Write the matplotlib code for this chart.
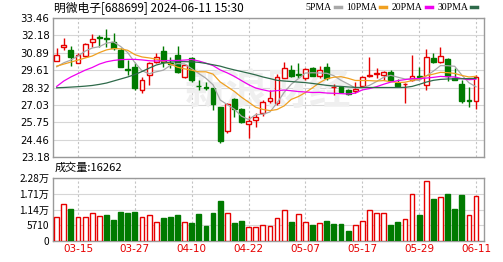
import matplotlib
matplotlib.use("Agg")
import matplotlib.pyplot as plt
from matplotlib.lines import Line2D
import numpy as np

dates = ["03-12", "03-13", "03-14", "03-15", "03-18", "03-19", "03-20", "03-21", "03-22", "03-25",
         "03-26", "03-27", "03-28", "03-29", "04-01", "04-02", "04-03", "04-08", "04-09", "04-10",
         "04-11", "04-12", "04-15", "04-16", "04-17", "04-18", "04-19", "04-22", "04-23", "04-24",
         "04-25", "04-26", "04-29", "04-30", "05-06", "05-07", "05-08", "05-09", "05-10", "05-13",
         "05-14", "05-15", "05-16", "05-17", "05-20", "05-21", "05-22", "05-23", "05-24", "05-27",
         "05-28", "05-29", "05-30", "05-31", "06-03", "06-04", "06-05", "06-06", "06-07", "06-11"]
open_ = [30.30, 31.33, 31.09, 30.15, 30.67, 31.70, 32.02, 31.95, 31.70, 31.09,
         29.70, 29.80, 28.17, 29.28, 30.22, 31.04, 30.15, 30.71, 29.10, 30.50,
         28.45, 28.36, 28.25, 26.88, 25.08, 27.48, 26.75, 25.60, 25.90, 26.45,
         27.33, 27.15, 29.05, 29.60, 29.35, 29.00, 29.77, 29.15, 29.85, 28.33,
         28.38, 28.16, 28.03, 28.40, 29.15, 29.33, 29.25, 29.50, 28.65, 28.55,
         28.88, 29.15, 28.47, 30.50, 30.20, 30.43, 29.05, 28.55, 27.40, 27.30]
high = [31.26, 32.00, 31.38, 30.89, 31.63, 32.25, 32.20, 32.62, 32.32, 31.21,
        30.34, 30.10, 29.11, 30.22, 30.84, 31.41, 30.59, 31.41, 30.05, 30.60,
        28.86, 28.70, 28.30, 26.90, 27.20, 27.55, 26.80, 26.20, 26.45, 27.40,
        28.10, 29.30, 30.20, 30.00, 30.10, 29.75, 29.80, 29.90, 30.15, 28.55,
        28.40, 28.20, 28.70, 29.15, 30.55, 29.75, 29.55, 29.60, 28.95, 28.62,
        30.70, 29.85, 31.20, 30.90, 31.30, 30.50, 29.73, 28.86, 28.37, 29.23]
low = [30.25, 31.09, 29.90, 30.10, 30.60, 31.33, 31.33, 31.33, 31.13, 29.80,
       29.23, 28.17, 27.88, 28.49, 30.15, 29.85, 29.73, 29.41, 29.00, 28.75,
       28.17, 28.15, 26.65, 24.20, 24.93, 26.15, 25.70, 24.60, 25.40, 26.20,
       27.20, 27.05, 29.00, 29.10, 29.00, 28.90, 29.15, 29.05, 28.90, 27.80,
       27.95, 27.80, 27.90, 28.35, 29.10, 29.00, 28.90, 28.80, 28.35, 27.20,
       28.80, 28.95, 28.10, 30.15, 30.15, 28.80, 28.85, 27.15, 26.90, 26.76]
close = [30.71, 31.46, 30.59, 30.76, 31.53, 31.88, 31.95, 31.88, 31.21, 29.85,
         29.62, 28.25, 28.86, 30.10, 30.59, 30.22, 30.05, 29.48, 29.95, 28.87,
         28.40, 28.30, 27.10, 24.35, 27.10, 26.70, 25.75, 25.85, 26.15, 27.25,
         27.57, 29.10, 29.74, 29.15, 29.28, 29.70, 29.20, 29.64, 29.02, 28.37,
         28.00, 27.86, 28.20, 29.08, 29.27, 29.38, 29.45, 28.90, 28.40, 28.60,
         29.20, 29.08, 30.57, 30.20, 30.63, 29.18, 28.87, 27.32, 27.35, 29.11]
close_before = 30.25
volume = [8550, 13300, 11760, 8550, 8550, 10330, 8900, 9500, 7720, 10690,
          10330, 10690, 8550, 9500, 6770, 8310, 8550, 9380, 6770, 6410,
          9740, 5340, 10330, 14490, 10090, 6650, 7360, 5100, 5220, 5820,
          5580, 8310, 11280, 6890, 9740, 6890, 5940, 6530, 7360, 6290,
          6290, 3560, 5940, 7360, 11280, 10090, 10330, 5940, 6890, 8080,
          16980, 9380, 21610, 15200, 15790, 16980, 11520, 16740, 9500, 16262]
ma5 = [29.85, 30.15, 30.35, 30.65, 31.01, 31.24, 31.34, 31.60, 31.69, 31.35,
       30.90, 30.16, 29.56, 29.34, 29.48, 29.60, 29.96, 30.09, 30.06, 29.71,
       29.35, 29.00, 28.52, 27.40, 27.05, 26.71, 26.20, 25.95, 26.31, 26.34,
       26.51, 27.18, 27.96, 28.56, 28.97, 29.39, 29.41, 29.39, 29.37, 29.19,
       28.85, 28.58, 28.29, 28.30, 28.48, 28.76, 29.08, 29.22, 29.08, 28.95,
       28.91, 28.84, 29.17, 29.53, 29.94, 29.93, 29.89, 29.24, 28.67, 28.37]
ma10 = [29.90, 30.05, 30.20, 30.35, 30.50, 30.65, 30.90, 31.10, 31.20, 31.18,
        31.07, 30.75, 30.58, 30.51, 30.42, 30.25, 30.06, 29.82, 29.70, 29.60,
        29.48, 29.48, 29.31, 28.73, 28.38, 28.03, 27.60, 27.24, 26.86, 26.70,
        26.61, 26.69, 26.96, 27.44, 27.65, 27.95, 28.30, 28.68, 28.97, 29.08,
        29.12, 29.00, 28.84, 28.84, 28.83, 28.80, 28.83, 28.75, 28.69, 28.71,
        28.83, 28.96, 29.19, 29.31, 29.44, 29.42, 29.36, 29.21, 29.10, 29.15]
ma20 = [28.40, 28.80, 29.10, 29.35, 29.60, 29.80, 30.05, 30.22, 30.32, 30.38,
        30.40, 30.40, 30.36, 30.30, 30.28, 30.30, 30.32, 30.32, 30.35, 30.39,
        30.28, 30.12, 29.94, 29.62, 29.40, 29.14, 28.83, 28.53, 28.28, 28.15,
        28.04, 28.09, 28.13, 28.08, 28.02, 27.99, 27.95, 27.96, 27.91, 27.89,
        27.87, 27.84, 27.90, 28.14, 28.24, 28.38, 28.56, 28.72, 28.83, 28.90,
        28.98, 28.98, 29.02, 29.07, 29.14, 29.11, 29.10, 28.98, 28.90, 28.93]
ma30 = [28.30, 28.32, 28.35, 28.38, 28.42, 28.47, 28.55, 28.65, 28.80, 28.95,
        29.10, 29.28, 29.50, 29.75, 29.98, 30.12, 30.20, 30.23, 30.23, 30.22,
        30.18, 30.10, 30.00, 29.90, 29.75, 29.62, 29.50, 29.38, 29.25, 29.10,
        28.98, 28.85, 28.80, 28.76, 28.72, 28.68, 28.62, 28.55, 28.48, 28.43,
        28.40, 28.36, 28.33, 28.32, 28.32, 28.32, 28.32, 28.32, 28.32, 28.33,
        28.40, 28.55, 28.72, 28.85, 28.92, 28.95, 28.96, 28.97, 28.98, 29.00]

price_ticks = [23.18, 24.46, 25.75, 27.03, 28.32, 29.61, 30.89, 32.18, 33.46]
volume_ticks = [0, 5710, 11420, 17130, 22840]
volume_tick_labels = ["0", "5710", "1.14万", "1.71万", "2.28万"]
date_ticks = ["03-15", "03-27", "04-10", "04-22", "05-07", "05-17", "05-29", "06-11"]

RED = "#e60000"
GREEN = "#007a00"
GRID = "#d6d6d6"
EDGE = "#9a9a9a"
CJK = ["Noto Sans CJK SC", "DejaVu Sans"]

plt.rcParams["font.family"] = ["DejaVu Sans"]

figure = plt.figure(figsize=(5.03, 2.62), dpi=100)
axis = figure.add_axes([53 / 503, 1 - 157 / 262, 430.5 / 503, 139 / 262])
vol_axis = figure.add_axes([53 / 503, 1 - 241 / 262, 430.5 / 503, 63 / 262], sharex=axis)

x = np.arange(len(dates))
o = np.array(open_)
c = np.array(close)
h = np.array(high)
l = np.array(low)
up = c >= o
edge = np.where(up, RED, GREEN)
face = np.where(up, "white", GREEN)
axis.vlines(x, l, h, colors=edge, lw=1, zorder=3)
axis.bar(x, np.maximum(np.abs(c - o), 0.02), bottom=np.minimum(o, c), width=0.68,
         color=face, edgecolor=edge, linewidth=1, zorder=4)

axis.plot(x, ma5, color="#a8a8a8", lw=0.9, zorder=5)
axis.plot(x, ma10, color="#f0a020", lw=0.9, zorder=5)
axis.plot(x, ma20, color="#f000f0", lw=0.9, zorder=5)
axis.plot(x, ma30, color="#2e6a4a", lw=0.9, zorder=5)

axis.text(0.5, 0.47, "新浪财经", transform=axis.transAxes, family=CJK, fontsize=30,
          fontweight="bold", style="italic", color="#efefef", ha="center", va="center", zorder=1)

tick_pos = [dates.index(d) for d in date_ticks]
for ax_ in (axis, vol_axis):
    ax_.set_xticks(tick_pos)
    ax_.xaxis.grid(True, ls=(0, (2, 2)), color="#c4c4c4", lw=0.8)
    ax_.yaxis.grid(True, color=GRID, lw=0.8)
    ax_.set_axisbelow(True)
    ax_.tick_params(length=0, labelsize=7.3, pad=2.5)
    for spine in ax_.spines.values():
        spine.set_color(EDGE)
        spine.set_linewidth(1)

axis.set_xlim(-0.52, 60.05)
axis.set_ylim(price_ticks[0], price_ticks[-1])
axis.set_yticks(price_ticks)
axis.set_yticklabels([f"{t:.2f}" for t in price_ticks])
axis.tick_params(axis="x", labelbottom=False)

prev = np.concatenate([[close_before], c[:-1]])
vol_up = c >= prev
vol_axis.bar(x, volume, width=0.68, color=np.where(vol_up, "white", GREEN),
             edgecolor=np.where(vol_up, RED, GREEN), linewidth=1, zorder=3)
vol_axis.set_ylim(0, volume_ticks[-1])
vol_axis.set_yticks(volume_ticks)
vol_axis.set_yticklabels(volume_tick_labels, family=CJK)
vol_axis.set_xticklabels(date_ticks, color=RED, fontsize=7.5)

figure.text(54 / 503, 1 - 8 / 262, "明微电子[688699] 2024-06-11 15:30", family=CJK,
            fontsize=8.5, ha="left", va="center")
figure.text(55 / 503, 1 - 168 / 262, f"成交量:{volume[-1]}", family=CJK,
            fontsize=8, ha="left", va="center")

handles = [Line2D([], [], color=col, lw=2.5) for col in ["#a8a8a8", "#f0a020", "#f000f0", "#2e6a4a"]]
figure.legend(handles, ["5PMA", "10PMA", "20PMA", "30PMA"], loc="center right",
              bbox_to_anchor=(477 / 503, 1 - 8 / 262), ncol=4, frameon=False, markerfirst=False,
              handlelength=0.6, handletextpad=0.3, columnspacing=0.6, borderpad=0, borderaxespad=0,
              prop={"family": "Liberation Serif", "size": 7})

figure.savefig("out.png", dpi=100)
plt.close(figure)
